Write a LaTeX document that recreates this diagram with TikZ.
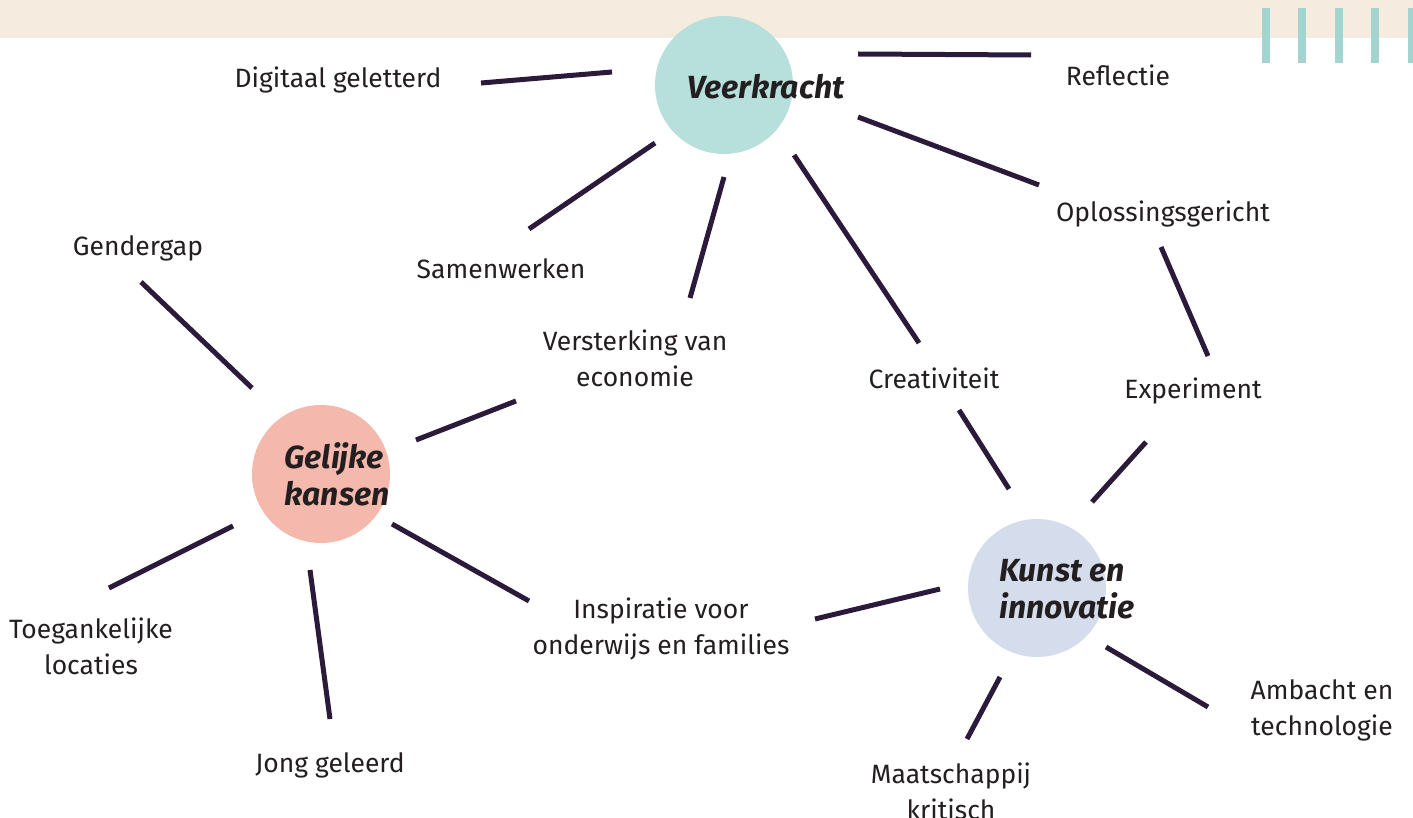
\documentclass[tikz,border=0pt]{standalone}
\usepackage{fontspec}
\setmainfont{Fira Sans}
\usetikzlibrary{calc}
\definecolor{band}{HTML}{F5ECDF}
\definecolor{bar}{HTML}{A3D5D0}
\definecolor{teal}{HTML}{B7DFDB}
\definecolor{salmon}{HTML}{F4B9AC}
\definecolor{lav}{HTML}{D5DCEC}
\definecolor{ink}{HTML}{2B1A3A}
\definecolor{txt}{HTML}{231F20}
\tikzset{
  hub/.style={circle, minimum size=138pt, inner sep=0pt},
  hubtext/.style={text=txt, inner sep=0pt, align=left,
    font=\fontsize{32}{37}\selectfont\bfseries\itshape},
  lbl/.style={text=txt, align=center, inner sep=0pt, font=\fontsize{26.5}{36}\selectfont},
  link/.style={draw=ink, line width=5pt},
  barstyle/.style={fill=bar, draw=none}
}
\begin{document}
\begin{tikzpicture}[x=1pt,y=-1pt]
\useasboundingbox (0,0) rectangle (1413,818);
\fill[band] (0,0) rectangle (1413,38);
\foreach \xx in {1262,1298,1335,1371,1408} \fill[barstyle] (\xx,8) rectangle ++(8,55);
% hubs
\node[hub, fill=teal] (ver) at (724,85) {};
\node[hubtext] (vert) at (766,87) {Veerkracht};
\node[hub, fill=salmon] (gel) at (321,474) {};
\node[hubtext] (gelt) at (337,474) {Gelijke\\kansen};
\node[hub, fill=lav] (kun) at (1037,588) {};
\node[hubtext] (kunt) at (1067,589) {Kunst en\\innovatie};
% labels
\node[lbl] (dig) at (338,80) {Digitaal geletterd};
\node[lbl] (ref) at (1118,75) {Reflectie};
\node[lbl] (opl) at (1163,214) {Oplossingsgericht};
\node[lbl] (sam) at (501,269) {Samenwerken};
\node[lbl] (gen) at (138,248) {Gendergap};
\node[lbl] (vst) at (635,358) {Versterking van\\economie};
\node[lbl] (cre) at (934,378) {Creativiteit};
\node[lbl] (exp) at (1193,391) {Experiment};
\node[lbl] (toe) at (91,646) {Toegankelijke\\locaties};
\node[lbl] (jon) at (330,765) {Jong geleerd};
\node[lbl] (ins) at (661,629) {Inspiratie voor\\onderwijs en families};
\node[lbl] (amb) at (1322,710) {Ambacht en\\technologie};
\node[lbl] (maa) at (951,791) {Maatschappij\\kritisch};
% connectors
\draw[link] ($(dig)+(143,3)$) -- ($(ver)+(-112,-13)$);
\draw[link] ($(ver)+(134,-31)$) -- ($(ref)+(-87,-20)$);
\draw[link] ($(ver)+(134,32)$) -- ($(opl)+(-124,-29)$);
\draw[link] ($(ver)+(-69,58)$) -- ($(sam)+(28,-40)$);
\draw[link] ($(ver)+(0,92)$) -- ($(vst)+(55,-60)$);
\draw[link] ($(ver)+(70,70)$) -- ($(cre)+(-15,-35)$);
\draw[link] ($(opl)+(-2,33)$) -- ($(exp)+(15,-35)$);
\draw[link] ($(gen)+(3,34)$) -- ($(gel)+(-69,-86)$);
\draw[link] ($(gel)+(95,-34)$) -- ($(vst)+(-119,43)$);
\draw[link] ($(gel)+(-88,52)$) -- ($(toe)+(18,-58)$);
\draw[link] ($(gel)+(-11,96)$) -- ($(jon)+(0,-46)$);
\draw[link] ($(gel)+(71,50)$) -- ($(ins)+(-132,-28)$);
\draw[link] ($(ins)+(154,-10)$) -- ($(kun)+(-97,1)$);
\draw[link] ($(cre)+(25,32)$) -- ($(kun)+(-28,-99)$);
\draw[link] ($(exp)+(-47,51)$) -- ($(kun)+(55,-86)$);
\draw[link] ($(kun)+(-37,89)$) -- ($(maa)+(16,-52)$);
\draw[link] ($(kun)+(69,59)$) -- ($(amb)+(-114,-3)$);
\end{tikzpicture}
\end{document}
